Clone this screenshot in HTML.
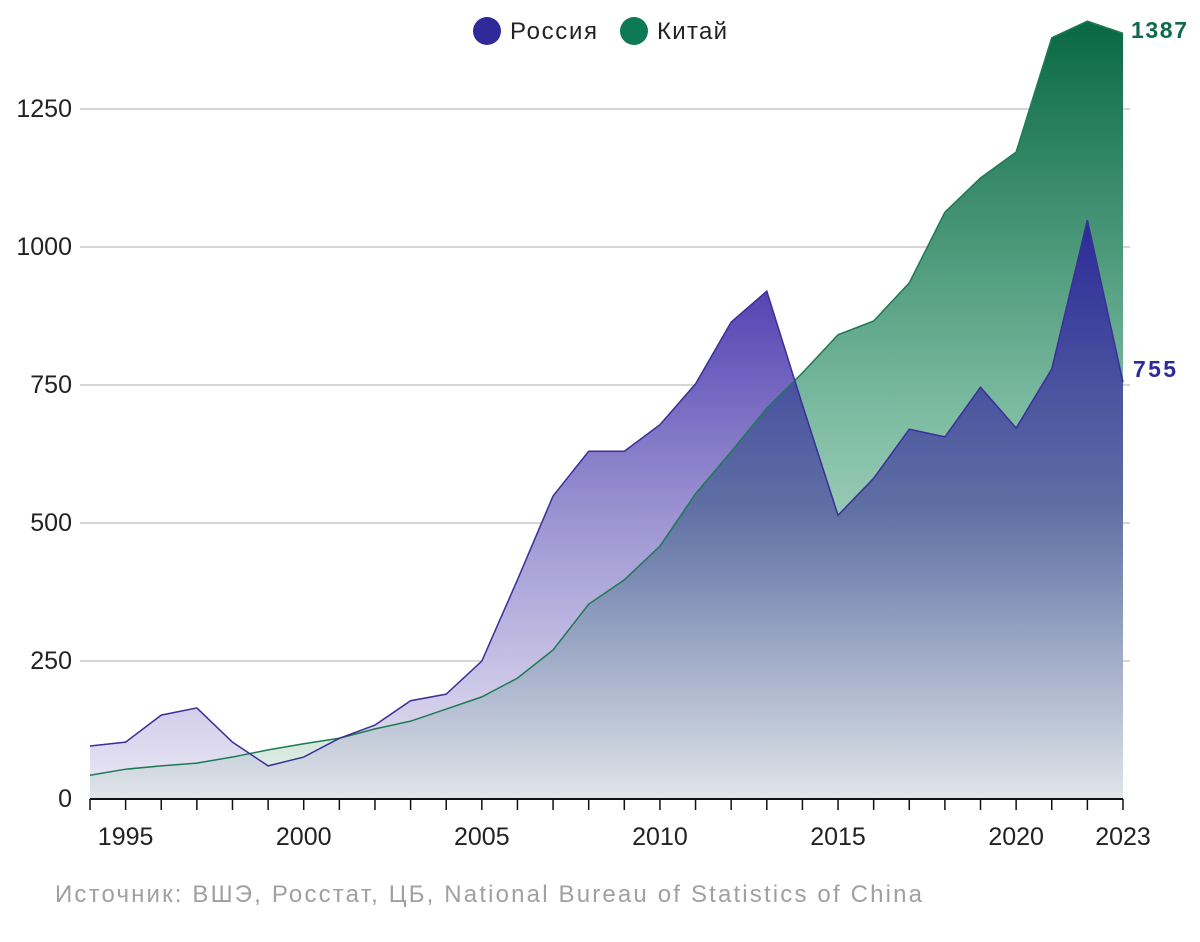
<!DOCTYPE html>
<html><head><meta charset="utf-8"><style>
html,body{margin:0;padding:0;background:#fff;}
svg{display:block;font-family:"Liberation Sans",sans-serif;}
</style></head><body>
<svg id="chart" width="1200" height="942" viewBox="0 0 1200 942">
<defs>
<linearGradient id="gGreen" gradientUnits="userSpaceOnUse" x1="0" y1="30" x2="0" y2="799">
<stop offset="0" stop-color="#0b6a46"/><stop offset="0.5" stop-color="#7dbca2"/><stop offset="1" stop-color="#e4efe9"/></linearGradient>
<linearGradient id="gPurple" gradientUnits="userSpaceOnUse" x1="0" y1="290" x2="0" y2="799">
<stop offset="0" stop-color="#5543b3"/><stop offset="0.45" stop-color="#9d94d2"/><stop offset="1" stop-color="#eceaf6"/></linearGradient>
<linearGradient id="gBlue" gradientUnits="userSpaceOnUse" x1="0" y1="220" x2="0" y2="799">
<stop offset="0" stop-color="#2c2a98"/><stop offset="0.5" stop-color="#5f70a4"/><stop offset="1" stop-color="#dfe5e9"/></linearGradient>
<clipPath id="clipChina"><path id="clipPathChina"/></clipPath>
</defs>
<g id="grid"></g>
<path id="chinaArea" fill="url(#gGreen)"/>
<path id="russiaArea" fill="url(#gPurple)"/>
<path id="overlapArea" fill="url(#gBlue)" clip-path="url(#clipChina)"/>
<path id="chinaLine" fill="none" stroke="#1d7a55" stroke-width="1.5"/>
<path id="russiaLine" fill="none" stroke="#3a2f9a" stroke-width="1.5"/>
<g id="xaxis"></g>
<g>
<circle cx="487" cy="31" r="14" fill="#2e2a9a"/>
<text x="510" y="39" font-size="24" textLength="87" fill="#222">Россия</text>
<circle cx="634" cy="31" r="14" fill="#0e7a55"/>
<text x="657" y="39" font-size="24" textLength="70" fill="#222">Китай</text>
</g>
<text id="chinaLast" x="1131" y="38" font-size="23" font-weight="bold" textLength="56" fill="#0e6b48"></text>
<text id="russiaLast" x="1133" y="377" font-size="23" font-weight="bold" textLength="43" fill="#2e2a9a"></text>
<text x="55" y="902" font-size="24" textLength="867" fill="#a0a0a0">Источник: ВШЭ, Росстат, ЦБ, National Bureau of Statistics  of China</text>
</svg>
<script>
const years=[1994,1995,1996,1997,1998,1999,2000,2001,2002,2003,2004,2005,2006,2007,2008,2009,2010,2011,2012,2013,2014,2015,2016,2017,2018,2019,2020,2021,2022,2023];
const russia=[96,103,152,165,103,60,76,110,134,178,190,250,397,549,630,630,678,752,864,920,714,514,581,670,656,746,672,779,1049,755];
const china=[43,54,60,65,76,89,100,110,127,141,163,185,219,270,353,397,458,553,629,708,772,841,866,935,1063,1125,1172,1379,1409,1387];
const yTicks=[0,250,500,750,1000,1250];
const xLabels=[1995,2000,2005,2010,2015,2020,2023];
const NS="http://www.w3.org/2000/svg";
const x=v=>90+(v-1994)*(1123-90)/29;
const y=v=>799-v*0.552;
function line(arr){return arr.map((v,i)=>(i?'L':'M')+x(years[i])+','+y(v)).join('');}
function area(arr){return line(arr)+'L'+x(years[years.length-1])+','+y(0)+'L'+x(years[0])+','+y(0)+'Z';}
const grid=document.getElementById('grid');
yTicks.forEach(t=>{
 if(t>0){const l=document.createElementNS(NS,'line');
 l.setAttribute('x1',80);l.setAttribute('x2',1130);l.setAttribute('y1',y(t));l.setAttribute('y2',y(t));
 l.setAttribute('stroke','#bdbdbd');l.setAttribute('stroke-width','1.2');
 
 
 grid.appendChild(l);}
 const tx=document.createElementNS(NS,'text');
 tx.setAttribute('x',72);tx.setAttribute('y',y(t)+8);tx.setAttribute('font-size','25');tx.setAttribute('fill','#222');
 tx.setAttribute('text-anchor','end');
 tx.textContent=t;
 
 
 grid.appendChild(tx);
});
document.getElementById('chinaArea').setAttribute('d',area(china));
document.getElementById('russiaArea').setAttribute('d',area(russia));
document.getElementById('overlapArea').setAttribute('d',area(russia));
document.getElementById('clipPathChina').setAttribute('d',area(china));
document.getElementById('chinaLine').setAttribute('d',line(china));
document.getElementById('russiaLine').setAttribute('d',line(russia));
document.getElementById('chinaLast').textContent=china[china.length-1];
document.getElementById('russiaLast').textContent=russia[russia.length-1];
const xa=document.getElementById('xaxis');
const ax=document.createElementNS(NS,'line');
ax.setAttribute('x1',x(1994));ax.setAttribute('x2',x(2023));ax.setAttribute('y1',799);ax.setAttribute('y2',799);
ax.setAttribute('stroke','#111');ax.setAttribute('stroke-width','2');


xa.appendChild(ax);
years.forEach(yr=>{
 const t=document.createElementNS(NS,'line');
 t.setAttribute('x1',x(yr));t.setAttribute('x2',x(yr));t.setAttribute('y1',799);t.setAttribute('y2',810);
 t.setAttribute('stroke','#111');t.setAttribute('stroke-width','1.5');
 
 
 xa.appendChild(t);
});
xLabels.forEach(yr=>{
 const tx=document.createElementNS(NS,'text');
 tx.setAttribute('x',x(yr));tx.setAttribute('y',845);tx.setAttribute('font-size','25');tx.setAttribute('fill','#222');tx.setAttribute('text-anchor','middle');
 tx.textContent=yr;
 
 
 xa.appendChild(tx);
});
</script>
</body></html>
